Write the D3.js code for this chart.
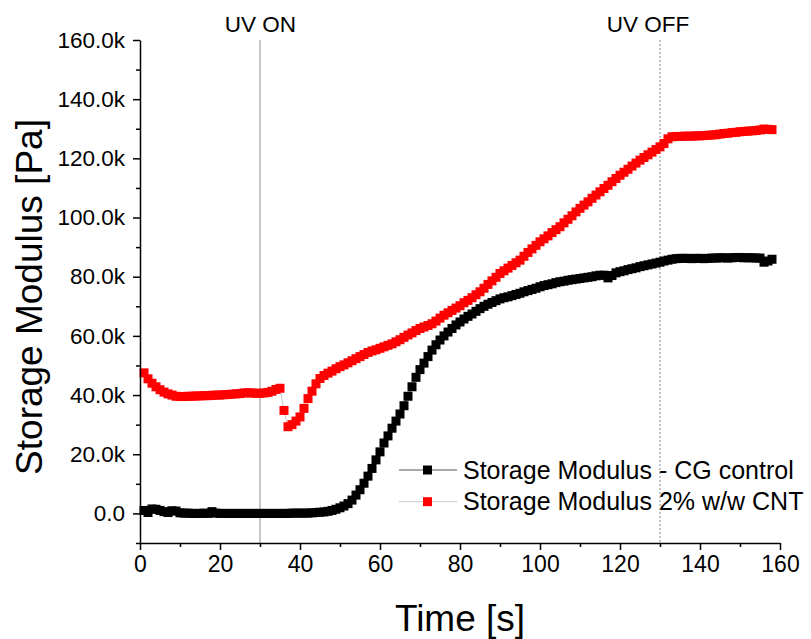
<!DOCTYPE html>
<html lang="en">
<head>
    <meta charset="UTF-8">
    <title>Storage Modulus</title>
    <script src="https://d3js.org/d3.v7.min.js"></script>
</head>
<style type="text/css">
    body { margin: 0; background: white; }
    svg text { font-family: "Liberation Sans", Arial, sans-serif; fill: black; }
    .axis path, .axis line { stroke: black; stroke-width: 1.5; }
</style>
<body>
<div id="chart"></div>
<script>
    var width = 811, height = 639;

    // time in seconds, one reading per second
    var time = d3.range(1, 159);

    // storage modulus, kPa - CG control
    var controlG = [
        1.0, 0.3, 1.5, 1.4, 1.0, 0.6, 0.3, 0.9, 0.8, 0.2,
        0.1, 0.1, 0.0, 0.0, 0.0, 0.1, 0.0, 0.6, 0.1, 0.0,
        0.0, 0.0, 0.0, 0.0, 0.0, 0.0, 0.0, 0.0, 0.0, 0.0,
        0.0, 0.0, 0.0, 0.0, 0.0, 0.0, 0.0, 0.1, 0.1, 0.1,
        0.1, 0.1, 0.2, 0.3, 0.4, 0.5, 0.7, 1.0, 1.4, 1.9,
        2.5, 3.3, 4.5, 6.2, 8.0, 10.2, 12.6, 15.2, 18.1, 20.8,
        23.8, 26.2, 28.8, 31.2, 33.6, 36.4, 39.6, 42.8, 46.0, 48.6,
        50.8, 53.0, 55.2, 57.0, 58.6, 60.0, 61.3, 62.5, 63.7, 64.7,
        65.7, 66.6, 67.4, 68.3, 69.2, 70.0, 70.7, 71.3, 71.9, 72.5,
        72.9, 73.2, 73.6, 74.0, 74.4, 74.9, 75.3, 75.7, 76.1, 76.6,
        77.0, 77.3, 77.6, 78.0, 78.3, 78.5, 78.8, 79.0, 79.2, 79.4,
        79.6, 79.8, 80.0, 80.3, 80.5, 80.5, 79.6, 80.4, 81.3, 81.7,
        82.0, 82.4, 82.7, 83.0, 83.4, 83.7, 84.0, 84.3, 84.6, 84.9,
        85.3, 85.6, 85.9, 86.1, 86.2, 86.2, 86.2, 86.1, 86.2, 86.2,
        86.1, 86.2, 86.3, 86.3, 86.4, 86.4, 86.3, 86.4, 86.5, 86.5,
        86.4, 86.4, 86.4, 86.3, 86.3, 84.9, 85.3, 85.9
    ];

    // storage modulus, kPa - 2% w/w CNT
    var cntG = [
        47.5, 45.5, 44.0, 42.8, 41.8, 41.0, 40.4, 40.0, 39.6, 39.5,
        39.5, 39.6, 39.6, 39.7, 39.7, 39.8, 39.8, 39.9, 40.0, 40.0,
        40.1, 40.2, 40.3, 40.4, 40.5, 40.7, 40.8, 40.7, 40.6, 40.6,
        40.7, 40.9, 41.3, 41.9, 42.3, 34.8, 29.3, 30.0, 31.2, 32.6,
        35.5, 38.8, 41.3, 43.8, 45.6, 46.6, 47.4, 48.1, 48.9, 49.6,
        50.2, 50.9, 51.6, 52.3, 53.0, 53.7, 54.4, 54.9, 55.3, 55.8,
        56.3, 56.8, 57.3, 58.0, 58.7, 59.5, 60.3, 61.0, 61.8, 62.5,
        63.0, 63.5, 64.1, 65.0, 66.0, 67.0, 67.8, 68.6, 69.4, 70.2,
        71.2, 72.0, 72.9, 73.9, 74.9, 76.1, 77.4, 78.6, 79.8, 81.1,
        82.0, 82.9, 83.8, 84.7, 85.6, 86.9, 88.2, 89.4, 90.6, 91.8,
        92.8, 93.8, 94.9, 95.9, 96.9, 98.2, 99.4, 100.6, 101.9, 103.1,
        104.2, 105.3, 106.5, 107.6, 108.7, 109.8, 110.9, 112.1, 113.2, 114.3,
        115.3, 116.3, 117.4, 118.4, 119.4, 120.3, 121.2, 122.1, 123.0, 123.9,
        125.0, 126.6, 127.3, 127.4, 127.4, 127.5, 127.5, 127.5, 127.6, 127.6,
        127.7, 127.8, 127.9, 128.0, 128.2, 128.4, 128.5, 128.7, 128.8, 129.0,
        129.1, 129.2, 129.3, 129.4, 129.6, 129.9, 129.8, 129.7
    ];

    var seriesNames = ["Storage Modulus - CG control", "Storage Modulus 2% w/w CNT"];
    var markerColors = ["black", "red"];
    var lineColors = ["#555555", "#c8c8c8"];

    var uvTimes = [30, 130];
    var uvLabels = ["UV ON", "UV OFF"];

    var xTicks = d3.range(0, 161, 20);
    var xMinor = d3.range(10, 160, 20);
    var yTicks = d3.range(0, 160001, 20000);
    var yMinor = d3.range(-10000, 160000, 20000);

    var svg = d3.select("#chart").append("svg")
        .attr("width", width).attr("height", height);

    var x = d3.scaleLinear().domain([0, 160]).range([140, 780]);
    var y = d3.scaleLinear().domain([-10000, 160000]).range([543, 40]);

    var fmt = function (v) { return v === 0 ? "0.0" : (v / 1000).toFixed(1) + "k"; };

    // UV marker lines
    svg.append("line")
        .attr("x1", x(uvTimes[0])).attr("x2", x(uvTimes[0]))
        .attr("y1", y(160000)).attr("y2", y(-10000))
        .style("stroke", "#b4b4b4").style("stroke-width", 1.5);
    svg.append("line")
        .attr("x1", x(uvTimes[1])).attr("x2", x(uvTimes[1]))
        .attr("y1", y(160000)).attr("y2", y(-10000))
        .style("stroke", "#888").style("stroke-width", 1)
        .style("stroke-dasharray", "2,2");

    svg.append("text").attr("x", x(uvTimes[0]) + 0.5).attr("y", 32)
        .style("text-anchor", "middle").style("font-size", "22.5px").text(uvLabels[0]);
    svg.append("text").attr("x", x(uvTimes[1]) - 12).attr("y", 32)
        .style("text-anchor", "middle").style("font-size", "22.5px").text(uvLabels[1]);

    // series
    var allData = [controlG, cntG];
    allData.forEach(function (vals, k) {
        var pts = time.map(function (t, i) { return [t, vals[i] * 1000]; });
        svg.append("path")
            .datum(pts)
            .attr("d", d3.line().x(function (d) { return x(d[0]); }).y(function (d) { return y(d[1]); }))
            .style("fill", "none").style("stroke", lineColors[k]).style("stroke-width", 1);
        svg.append("g").selectAll("rect").data(pts).enter()
            .append("rect")
            .attr("x", function (d) { return x(d[0]) - 4.5; })
            .attr("y", function (d) { return y(d[1]) - 4.5; })
            .attr("width", 9).attr("height", 9)
            .style("fill", markerColors[k]);
    });

    // axes
    var xAxis = svg.append("g").attr("class", "axis")
        .attr("transform", "translate(0," + y(-10000) + ")")
        .call(d3.axisBottom(x).tickValues(xTicks).tickSize(7).tickSizeOuter(0).tickPadding(6));
    xAxis.selectAll("text").style("font-size", "23px");
    svg.append("g").attr("class", "axis")
        .attr("transform", "translate(0," + y(-10000) + ")")
        .call(d3.axisBottom(x).tickValues(xMinor).tickSize(4).tickSizeOuter(0).tickFormat(""))
        .select(".domain").remove();

    var yAxis = svg.append("g").attr("class", "axis")
        .attr("transform", "translate(" + x(0) + ",0)")
        .call(d3.axisLeft(y).tickValues(yTicks).tickSize(7).tickSizeOuter(0).tickPadding(8).tickFormat(fmt));
    yAxis.selectAll("text").style("font-size", "22.5px");
    svg.append("g").attr("class", "axis")
        .attr("transform", "translate(" + x(0) + ",0)")
        .call(d3.axisLeft(y).tickValues(yMinor).tickSize(4).tickSizeOuter(0).tickFormat(""))
        .select(".domain").remove();

    // axis titles
    svg.append("text").attr("x", 460).attr("y", 631)
        .style("text-anchor", "middle").style("font-size", "37px").text("Time [s]");
    svg.append("text").attr("transform", "translate(42,297) rotate(-90)")
        .style("text-anchor", "middle").style("font-size", "37px").text("Storage Modulus [Pa]");

    // legend
    var legend = svg.append("g").selectAll("g").data(seriesNames).enter()
        .append("g")
        .attr("transform", function (d, i) { return "translate(0," + (470 + i * 31.7) + ")"; });
    legend.append("line")
        .attr("x1", 399).attr("x2", 457).attr("y1", 0).attr("y2", 0)
        .style("stroke", function (d, i) { return lineColors[i]; }).style("stroke-width", 1);
    legend.append("rect")
        .attr("x", 423).attr("y", -4.5).attr("width", 9).attr("height", 9)
        .style("fill", function (d, i) { return markerColors[i]; });
    legend.append("text")
        .attr("x", 463).attr("y", 8.5)
        .style("font-size", "25px")
        .text(function (d) { return d; });
</script>
</body>
</html>
